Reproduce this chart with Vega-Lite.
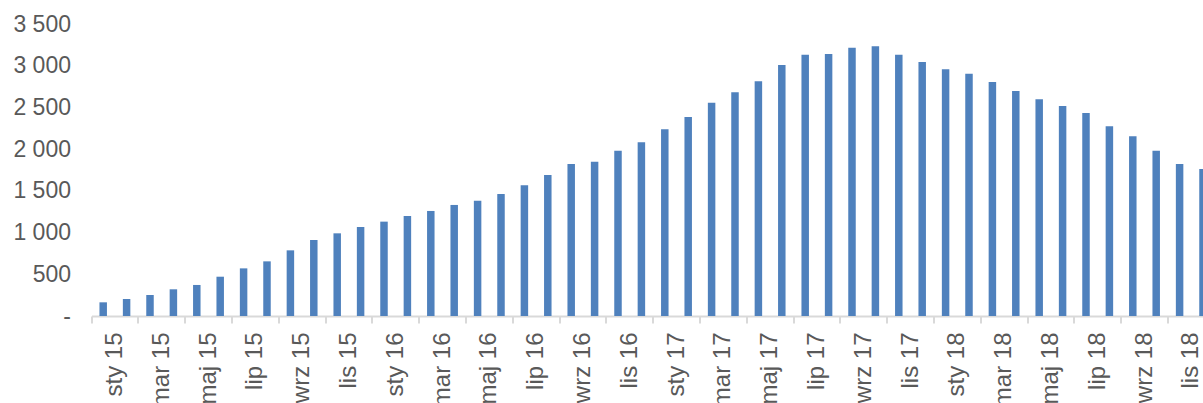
{
  "$schema": "https://vega.github.io/schema/vega-lite/v6.json",
  "autosize": {"type": "none"},
  "padding": {"left": 91.5, "top": 24, "right": 0, "bottom": 87},
  "width": 1111.5,
  "height": 292,
  "background": "white",
  "config": {"view": {"stroke": null}, "font": "Liberation Sans"},
  "data": {"values": [
    {"m": "sty 15", "v": 164}, {"m": "lut 15", "v": 204}, {"m": "mar 15", "v": 252}, {"m": "kwi 15", "v": 320},
    {"m": "maj 15", "v": 372}, {"m": "cze 15", "v": 471}, {"m": "lip 15", "v": 571}, {"m": "sie 15", "v": 655},
    {"m": "wrz 15", "v": 787}, {"m": "paź 15", "v": 911}, {"m": "lis 15", "v": 991}, {"m": "gru 15", "v": 1067},
    {"m": "sty 16", "v": 1131}, {"m": "lut 16", "v": 1199}, {"m": "mar 16", "v": 1259}, {"m": "kwi 16", "v": 1331},
    {"m": "maj 16", "v": 1382}, {"m": "cze 16", "v": 1462}, {"m": "lip 16", "v": 1566}, {"m": "sie 16", "v": 1690},
    {"m": "wrz 16", "v": 1822}, {"m": "paź 16", "v": 1850}, {"m": "lis 16", "v": 1982}, {"m": "gru 16", "v": 2082},
    {"m": "sty 17", "v": 2238}, {"m": "lut 17", "v": 2385}, {"m": "mar 17", "v": 2557}, {"m": "kwi 17", "v": 2681},
    {"m": "maj 17", "v": 2813}, {"m": "cze 17", "v": 3008}, {"m": "lip 17", "v": 3132}, {"m": "sie 17", "v": 3140},
    {"m": "wrz 17", "v": 3216}, {"m": "paź 17", "v": 3232}, {"m": "lis 17", "v": 3132}, {"m": "gru 17", "v": 3045},
    {"m": "sty 18", "v": 2957}, {"m": "lut 18", "v": 2904}, {"m": "mar 18", "v": 2805}, {"m": "kwi 18", "v": 2697},
    {"m": "maj 18", "v": 2597}, {"m": "cze 18", "v": 2517}, {"m": "lip 18", "v": 2433}, {"m": "sie 18", "v": 2273},
    {"m": "wrz 18", "v": 2154}, {"m": "paź 18", "v": 1982}, {"m": "lis 18", "v": 1822}, {"m": "gru 18", "v": 1762}
  ]},
  "mark": {"type": "bar", "color": "#4F81BD", "width": {"band": 0.32}, "clip": false},
  "encoding": {
    "x": {
      "field": "m", "type": "ordinal", "sort": null,
      "scale": {"paddingInner": 0, "paddingOuter": 0, "range": [0, 1123.2]},
      "axis": {
        "title": null,
        "values": ["sty 15","mar 15","maj 15","lip 15","wrz 15","lis 15","sty 16","mar 16","maj 16","lip 16","wrz 16","lis 16","sty 17","mar 17","maj 17","lip 17","wrz 17","lis 17","sty 18","mar 18","maj 18","lip 18","wrz 18","lis 18"],
        "bandPosition": 0,
        "labelOffset": 11.7,
        "labelAngle": -90,
        "labelAlign": "right",
        "labelBaseline": "middle",
        "labelFontSize": 24,
        "labelColor": "#595959",
        "labelPadding": 9,
        "labelOverlap": false,
        "tickSize": 7,
        "tickColor": "#D9D9D9",
        "tickWidth": 2,
        "domainColor": "#D9D9D9",
        "domainWidth": 2,
        "grid": false
      }
    },
    "y": {
      "field": "v", "type": "quantitative",
      "scale": {"domain": [0, 3500], "nice": false},
      "axis": {
        "title": null,
        "values": [0, 500, 1000, 1500, 2000, 2500, 3000, 3500],
        "labelExpr": "datum.value == 0 ? '-' : replace(format(datum.value, ','), ',', ' ')",
        "labelFontSize": 23,
        "labelColor": "#595959",
        "labelPadding": 21,
        "ticks": false,
        "domain": false,
        "grid": false
      }
    }
  }
}
